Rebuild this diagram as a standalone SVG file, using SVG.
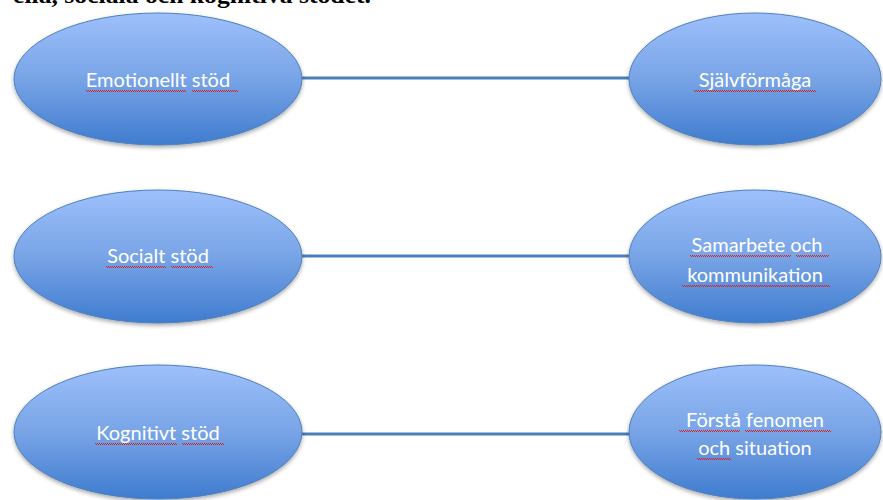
<svg xmlns="http://www.w3.org/2000/svg" width="883" height="500" viewBox="0 0 883 500">
<defs>
<linearGradient id="g" x1="0" y1="0" x2="0" y2="1">
<stop offset="0" stop-color="#9dc0fb"/>
<stop offset="0.5" stop-color="#78a4e6"/>
<stop offset="1" stop-color="#3f7ccf"/>
</linearGradient>
<filter id="sh" x="-10%" y="-10%" width="120%" height="130%">
<feGaussianBlur in="SourceAlpha" stdDeviation="2"/>
<feOffset dy="2" result="b"/>
<feComponentTransfer><feFuncA type="linear" slope="0.35"/></feComponentTransfer>
<feMerge><feMergeNode/><feMergeNode in="SourceGraphic"/></feMerge>
</filter>
</defs>
<style>
.n{fill:url(#g);stroke:#4f81bd;stroke-width:1;filter:url(#sh)}
.t{font-family:Lato,"Open Sans",sans-serif;font-size:20px;fill:#ffffff;text-anchor:middle}
.c{stroke:#4a7ebb;stroke-width:3;fill:none}
.u{fill:none;stroke:#e02020;stroke-width:1;stroke-dasharray:1 1}
.u2{fill:none;stroke:#e02020;stroke-width:1;stroke-dasharray:1 1;stroke-dashoffset:1}
.h{font-family:"Liberation Serif",serif;font-weight:bold;font-size:24px;fill:#000}
</style>
<text class="h" x="13" y="3" textLength="358" lengthAdjust="spacingAndGlyphs">ella, sociala och kognitiva stödet.</text>
<g id="connectors">
<line class="c" x1="301" y1="78" x2="631" y2="78"/>
<line class="c" x1="301" y1="256" x2="631" y2="256"/>
<line class="c" x1="301" y1="434" x2="631" y2="434"/>
</g>
<g id="emotionellt">
<ellipse class="n" cx="158" cy="79" rx="144" ry="66"/>
<text class="t" x="158" y="87">Emotionellt stöd</text>
<path class="u" d="M86 90.5h100M192 90.5h46"/>
<path class="u2" d="M86 91.5h100M192 91.5h46"/>
</g>
<g id="sjalvformaga">
<ellipse class="n" cx="755" cy="79" rx="126" ry="66"/>
<text class="t" x="755" y="87">Självförmåga</text>
<path class="u" d="M694 90.5h122"/>
<path class="u2" d="M694 91.5h122"/>
</g>
<g id="socialt">
<ellipse class="n" cx="158" cy="256.5" rx="144" ry="66.5"/>
<text class="t" x="158" y="263">Socialt stöd</text>
<path class="u" d="M106 266.5h60M171 266.5h42"/>
<path class="u2" d="M106 267.5h60M171 267.5h42"/>
</g>
<g id="samarbete">
<ellipse class="n" cx="755" cy="256.5" rx="126" ry="66.5"/>
<text class="t" x="757" y="252">Samarbete och</text>
<text class="t" x="755" y="282">kommunikation</text>
<path class="u" d="M690 255.5h101M796 255.5h33M682 285.5h148"/>
<path class="u2" d="M690 256.5h101M796 256.5h33M682 286.5h148"/>
</g>
<g id="kognitivt">
<ellipse class="n" cx="158" cy="432" rx="144" ry="67"/>
<text class="t" x="158" y="440">Kognitivt stöd</text>
<path class="u" d="M95 443.5h82M182 443.5h42"/>
<path class="u2" d="M95 444.5h82M182 444.5h42"/>
</g>
<g id="forsta">
<ellipse class="n" cx="755" cy="432" rx="126" ry="67"/>
<text class="t" x="755" y="427">Förstå fenomen</text>
<text class="t" x="755" y="455">och situation</text>
<path class="u" d="M679 430.5h61M745 430.5h86M697 458.5h34"/>
<path class="u2" d="M679 431.5h61M745 431.5h86M697 459.5h34"/>
</g>
</svg>
